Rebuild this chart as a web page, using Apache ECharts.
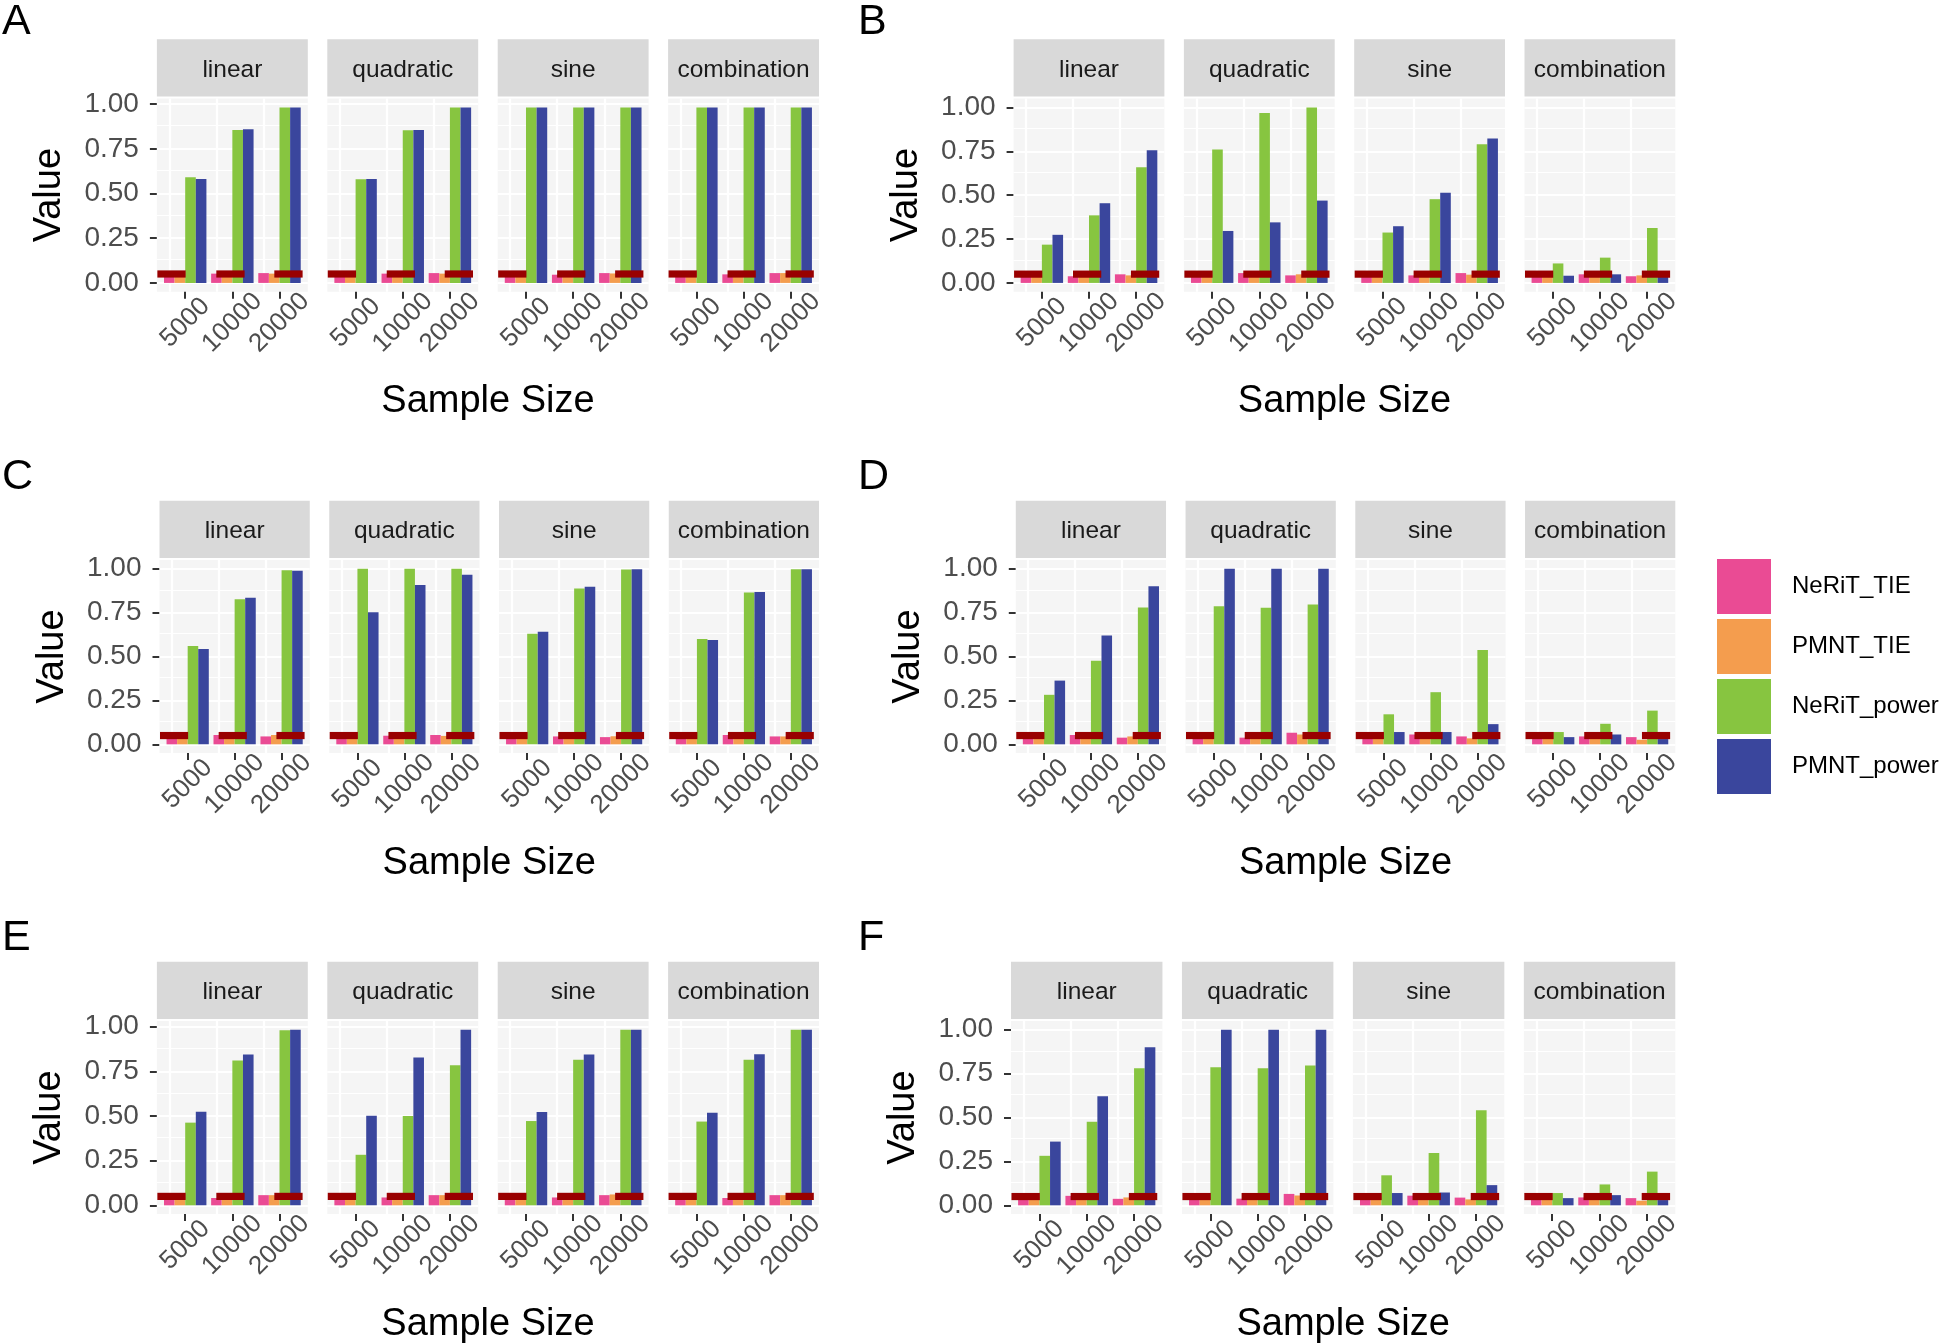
<!DOCTYPE html>
<html>
<head>
<meta charset="utf-8">
<script src="https://cdn.jsdelivr.net/npm/echarts@6.0.0/dist/echarts.min.js"></script>
<style>
  html, body { margin: 0; padding: 0; background: #fff; }
  #chart { width: 1944px; height: 1343px; }
</style>
</head>
<body>
<div id="chart"></div>
<script>
const sizes = ['5000', '10000', '20000'];
const facets = ['linear', 'quadratic', 'sine', 'combination'];
const methods = ['NeRiT_TIE', 'PMNT_TIE', 'NeRiT_power', 'PMNT_power'];
const nominalLevel = 0.05;
const yTicks = [0, 0.25, 0.5, 0.75, 1];
const yMinor = [0.125, 0.375, 0.625, 0.875];

// each row is a facet (linear, quadratic, sine, combination), columns are 5000 / 10000 / 20000
const A_neritTie = [[0.045, 0.052, 0.055], [0.046, 0.052, 0.055], [0.045, 0.046, 0.055], [0.046, 0.048, 0.055]];
const A_pmntTie = [[0.048, 0.050, 0.052], [0.047, 0.050, 0.052], [0.047, 0.048, 0.053], [0.046, 0.050, 0.055]];
const A_neritPower = [[0.591, 0.856, 0.982], [0.580, 0.854, 0.982], [0.982, 0.982, 0.982], [0.982, 0.982, 0.982]];
const A_pmntPower = [[0.582, 0.860, 0.982], [0.582, 0.856, 0.982], [0.982, 0.982, 0.982], [0.982, 0.982, 0.982]];

const B_neritTie = [[0.045, 0.038, 0.049], [0.046, 0.056, 0.043], [0.045, 0.043, 0.056], [0.046, 0.049, 0.038]];
const B_pmntTie = [[0.047, 0.045, 0.043], [0.048, 0.047, 0.049], [0.046, 0.045, 0.047], [0.044, 0.046, 0.043]];
const B_neritPower = [[0.218, 0.385, 0.659], [0.760, 0.968, 1.000], [0.287, 0.477, 0.790], [0.111, 0.144, 0.313]];
const B_pmntPower = [[0.274, 0.454, 0.756], [0.296, 0.345, 0.469], [0.323, 0.514, 0.822], [0.041, 0.049, 0.035]];

const C_neritTie = [[0.046, 0.053, 0.045], [0.045, 0.049, 0.053], [0.046, 0.045, 0.041], [0.045, 0.053, 0.045]];
const C_pmntTie = [[0.048, 0.048, 0.053], [0.047, 0.046, 0.048], [0.047, 0.046, 0.046], [0.046, 0.047, 0.045]];
const C_neritPower = [[0.560, 0.827, 0.992], [1.000, 1.000, 1.000], [0.630, 0.887, 0.996], [0.600, 0.865, 0.998]];
const C_pmntPower = [[0.543, 0.835, 0.989], [0.752, 0.908, 0.966], [0.641, 0.897, 0.998], [0.594, 0.868, 0.998]];

const D_neritTie = [[0.045, 0.053, 0.038], [0.045, 0.038, 0.066], [0.045, 0.056, 0.045], [0.045, 0.045, 0.041]];
const D_pmntTie = [[0.047, 0.047, 0.045], [0.046, 0.046, 0.056], [0.046, 0.047, 0.034], [0.046, 0.046, 0.026]];
const D_neritPower = [[0.282, 0.476, 0.780], [0.786, 0.778, 0.797], [0.171, 0.297, 0.538], [0.070, 0.117, 0.192]];
const D_pmntPower = [[0.363, 0.620, 0.900], [1.000, 1.000, 1.000], [0.070, 0.070, 0.115], [0.041, 0.056, 0.030]];

const E_neritTie = [[0.046, 0.041, 0.057], [0.046, 0.044, 0.057], [0.046, 0.044, 0.057], [0.046, 0.041, 0.057]];
const E_pmntTie = [[0.047, 0.046, 0.057], [0.047, 0.046, 0.057], [0.047, 0.046, 0.061], [0.047, 0.046, 0.057]];
const E_neritPower = [[0.463, 0.811, 0.980], [0.283, 0.500, 0.785], [0.472, 0.815, 0.983], [0.469, 0.815, 0.983]];
const E_pmntPower = [[0.524, 0.844, 0.983], [0.502, 0.828, 0.983], [0.522, 0.844, 0.983], [0.519, 0.846, 0.983]];

const F_neritTie = [[0.045, 0.054, 0.037], [0.045, 0.038, 0.065], [0.045, 0.055, 0.044], [0.045, 0.045, 0.041]];
const F_pmntTie = [[0.047, 0.047, 0.045], [0.046, 0.046, 0.056], [0.046, 0.047, 0.034], [0.046, 0.046, 0.026]];
const F_neritPower = [[0.282, 0.476, 0.781], [0.787, 0.781, 0.797], [0.171, 0.298, 0.542], [0.070, 0.119, 0.192]];
const F_pmntPower = [[0.363, 0.621, 0.900], [1.000, 1.000, 1.000], [0.070, 0.073, 0.115], [0.041, 0.058, 0.030]];

const panelData = {
    A: [A_neritTie, A_pmntTie, A_neritPower, A_pmntPower],
    B: [B_neritTie, B_pmntTie, B_neritPower, B_pmntPower],
    C: [C_neritTie, C_pmntTie, C_neritPower, C_pmntPower],
    D: [D_neritTie, D_pmntTie, D_neritPower, D_pmntPower],
    E: [E_neritTie, E_pmntTie, E_neritPower, E_pmntPower],
    F: [F_neritTie, F_pmntTie, F_neritPower, F_pmntPower]
};

// styles and layout
const colors = ['#EA4B94', '#F49D4E', '#87C540', '#3A469D'];
const refColor = '#990000';
const FONT = "'Liberation Sans', Arial, sans-serif";
const rowTop = [39.3, 500.7, 961.7];
const letterY = [21.7, 477.3, 938.5];
// left, right, row, column
const panelSpan = {
    A: [156.9, 819, 0, 0], B: [1013.6, 1675.3, 0, 1],
    C: [159.5, 819, 1, 0], D: [1015.8, 1675.3, 1, 1],
    E: [156.9, 819, 2, 0], F: [1011, 1675.3, 2, 1]
};
const letterX = [2, 858];
const facetGap = 19.5, stripH = 57.3, panelTopOff = 59.3, panelBotOff = 252.4;
// the reference segments sit a bit off the group centres
const refShift = [-0.29, -0.04, 0.19], refHalf = 0.3;

const gridLines = {
    silent: true,
    z: 1,
    symbol: ['none', 'none'],
    label: {show: false},
    emphasis: {disabled: true},
    lineStyle: {color: '#ffffff', type: 'solid', width: 2.2},
    data: [
        ...yTicks.map(v => ({yAxis: v})),
        ...yMinor.map(v => ({yAxis: v, lineStyle: {width: 1.1}})),
        ...[1, 2, 3].map(v => ({xAxis: v}))
    ]
};

const grids = [], xAxes = [], yAxes = [], series = [], graphics = [];

Object.keys(panelData).forEach(p => {
    const [left, right, row, col] = panelSpan[p];
    const w = (right - left - 3 * facetGap) / 4;
    const vals = panelData[p];
    const yMax = Math.max(nominalLevel, ...vals.flat(2));
    const top = rowTop[row] + panelTopOff;
    const bottom = rowTop[row] + panelBotOff;

    facets.forEach((f, fi) => {
        const gi = grids.length;
        const x0 = left + fi * (w + facetGap);
        grids.push({
            left: x0, top: top, width: w, height: bottom - top,
            show: true, backgroundColor: '#F5F5F5', borderWidth: 0
        });
        xAxes.push({
            gridIndex: gi, type: 'value', min: 0.4, max: 3.6,
            axisLine: {show: false, onZero: false},
            splitLine: {show: false},
            axisTick: {customValues: [1, 2, 3], length: 7, lineStyle: {color: '#333333', width: 2}},
            axisLabel: {
                customValues: [1, 2, 3],
                formatter: v => sizes[Math.round(v) - 1],
                showMinLabel: true, showMaxLabel: true, hideOverlap: false,
                rotate: 45, align: 'center', verticalAlign: 'middle',
                margin: 31,
                fontSize: 26, color: '#4D4D4D', fontFamily: FONT
            }
        });
        const first = fi === 0;
        yAxes.push({
            gridIndex: gi, type: 'value', min: -0.05 * yMax, max: 1.05 * yMax,
            axisLine: {show: false},
            splitLine: {show: false},
            axisTick: {show: first, customValues: yTicks, length: 7, lineStyle: {color: '#333333', width: 2}},
            axisLabel: {
                show: first, customValues: yTicks, formatter: v => v.toFixed(2),
                showMinLabel: true, showMaxLabel: true,
                margin: 18, fontSize: 28, color: '#4D4D4D', fontFamily: FONT
            },
            name: first ? 'Value' : '',
            nameLocation: 'middle', nameGap: 88,
            nameTextStyle: {fontSize: 38, color: '#000000', fontFamily: FONT}
        });
        methods.forEach((m, mi) => {
            series.push({
                type: 'bar', name: m, xAxisIndex: gi, yAxisIndex: gi,
                data: vals[mi][fi].map((v, k) => [k + 1, v]),
                itemStyle: {color: colors[mi]},
                barGap: '0%', barCategoryGap: '10%',
                silent: true,
                markLine: mi === 0 ? gridLines : undefined
            });
        });
        series.push({
            type: 'custom', xAxisIndex: gi, yAxisIndex: gi, z: 4, silent: true, clip: false,
            data: sizes.map((s, k) => [k + 1, nominalLevel]),
            renderItem: (params, api) => {
                const x = api.value(0) + refShift[params.dataIndex];
                const a = api.coord([x - refHalf, api.value(1)]);
                const b = api.coord([x + refHalf, api.value(1)]);
                return {
                    type: 'rect',
                    shape: {x: a[0], y: a[1] - 3.6, width: b[0] - a[0], height: 7.2},
                    style: {fill: refColor}
                };
            }
        });
        // facet strip
        graphics.push({
            type: 'rect', silent: true,
            shape: {x: x0, y: rowTop[row], width: w, height: stripH},
            style: {fill: '#D9D9D9'}
        });
        graphics.push({
            type: 'text', silent: true,
            x: x0 + w / 2, y: rowTop[row] + stripH / 2 + 2,
            style: {text: f, fontSize: 24.5, fontFamily: FONT, fill: '#1A1A1A', align: 'center', verticalAlign: 'middle'}
        });
    });

    graphics.push({
        type: 'text', silent: true,
        x: letterX[col], y: letterY[row],
        style: {text: p, fontSize: 43, fontFamily: FONT, fill: '#000000', align: 'left', verticalAlign: 'middle'}
    });
    graphics.push({
        type: 'text', silent: true,
        x: (left + right) / 2, y: bottom + 110,
        style: {text: 'Sample Size', fontSize: 38, fontFamily: FONT, fill: '#000000', align: 'center', verticalAlign: 'middle'}
    });
});

const chart = echarts.init(document.getElementById('chart'));
chart.setOption({
    animation: false,
    backgroundColor: '#ffffff',
    grid: grids,
    xAxis: xAxes,
    yAxis: yAxes,
    series: series,
    graphic: graphics,
    legend: {
        data: methods,
        orient: 'vertical',
        left: 1712, top: 554,
        itemWidth: 54, itemHeight: 55, itemGap: 5,
        icon: 'rect',
        selectedMode: false,
        textStyle: {fontSize: 24, color: '#000000', fontFamily: FONT, padding: [0, 0, 0, 16]}
    }
});
</script>
</body>
</html>
